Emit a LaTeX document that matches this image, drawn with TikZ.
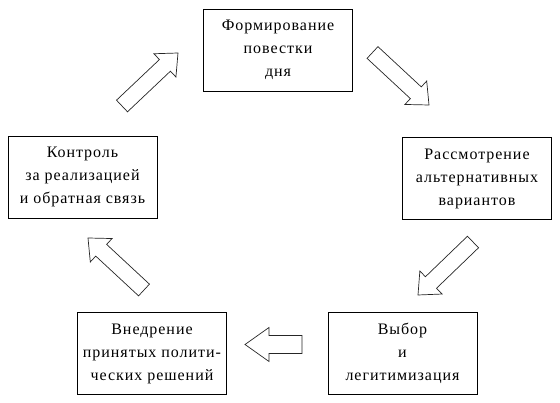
\documentclass[tikz,border=0pt]{standalone}
\usepackage{fontspec}
\setmainfont[LetterSpace=6]{Liberation Serif}
\usetikzlibrary{calc}
\tikzset{
  stage/.style={draw=black, line width=0.75pt, rectangle, minimum width=149pt, minimum height=82pt,
    align=center, inner sep=0pt, font=\fontsize{16}{23}\selectfont},
  arrowline/.style={draw=black!85, line width=0.7pt, line join=miter}
}
\newcommand\blockarr[5]{%
  \coordinate (bah) at ($(#2)!#3!(#1)$);
  \draw[arrowline] (#2) -- ($(bah)!#4!90:(#2)$) -- ($(bah)!#5!90:(#2)$)
     -- ($(#1)!#5!90:(#2)$) -- ($(#1)!#5!-90:(#2)$) -- ($(bah)!#5!-90:(#2)$)
     -- ($(bah)!#4!-90:(#2)$) -- cycle;}
\begin{document}
\begin{tikzpicture}[x=1pt, y=-1pt]
\useasboundingbox (0,0) rectangle (560,403);
\node[stage] (agenda) at (278,50) {Формирование\\повестки\\дня};
\node[stage] (alt) at (477,178.5) {Рассмотрение\\альтернативных\\вариантов};
\node[stage] (choice) at (402.5,353.5) {Выбор\\и\\легитимизация};
\node[stage] (impl) at (152,353.5) {Внедрение\\принятых полити-\\ческих решений};
\node[stage] (ctrl) at (82.5,177) {Контроль\\за реализацией\\и обратная связь};
% block arrows: tail, tip
\coordinate (a1s) at (372.5,52.5); \coordinate (a1t) at (429,105);
\coordinate (a2s) at (473,242);   \coordinate (a2t) at (418,295);
\coordinate (a3s) at (302,344.5); \coordinate (a3t) at (245,344.5);
\coordinate (a4s) at (144,290);   \coordinate (a4t) at (88,238);
\coordinate (a5s) at (122,106);   \coordinate (a5t) at (178,53);
\blockarr{a1s}{a1t}{18pt}{16pt}{8pt}
\blockarr{a2s}{a2t}{18pt}{16pt}{8pt}
\blockarr{a3s}{a3t}{24pt}{17pt}{9pt}
\blockarr{a4s}{a4t}{18pt}{16pt}{8pt}
\blockarr{a5s}{a5t}{18pt}{16pt}{8pt}
\end{tikzpicture}
\end{document}
